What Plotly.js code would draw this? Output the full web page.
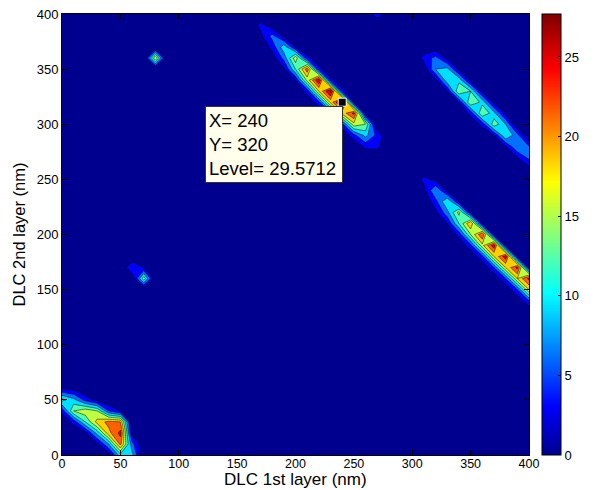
<!DOCTYPE html>
<html>
<head>
<meta charset="utf-8">
<script src="https://cdn.plot.ly/plotly-3.0.1.min.js"></script>
<style>html,body{margin:0;padding:0;background:#fff;}#chart{width:595px;height:490px;}</style>
</head>
<body>
<div id="chart"></div>
<script>
// grid of the simulation (nm)
const gridX = [0,10,20,30,40,50,60,70,80,90,100,110,120,130,140,150,160,170,180,190,200,210,220,230,240,250,260,270,280,290,300,310,320,330,340,350,360,370,380,390,400];
const gridY = [0,10,20,30,40,50,60,70,80,90,100,110,120,130,140,150,160,170,180,190,200,210,220,230,240,250,260,270,280,290,300,310,320,330,340,350,360,370,380,390,400];

// non-zero cells (everything else is 0)
// bottom-left band
const blX = [0,0,0, 10,10,10,10, 20,20,20,20, 30,30,30,30,30, 40,40,40,40,40, 50,50,50,50,50, 60,60,60];
const blY = [40,50,60, 30,40,50,60, 20,30,40,50, 10,20,30,40,50, 0,10,20,30,40, 0,10,20,30,40, 0,10,20];
const blZ = [4,13,3, 4,15,10,2, 2,12,17,5, 2,10,19,15,2, 1,9,20,22,6, 11,22,25,21,3, 10,7,2];

// ridge A (upper middle)
const raX = [160, 170,170,170, 180,180,180,180, 190,190,190,190, 200,200,200,200, 210,210,210,210, 220,220,220,220, 230,230,230,230, 240,240,240,240, 250,250,250,250, 260,260,260,260, 270,270];
const raY = [400, 390,380,400, 380,370,390,360, 370,360,380,350, 360,350,370,340, 350,340,360,330, 340,330,350,320, 330,320,340,310, 320,310,330,300, 310,300,320,290, 300,290,310,280, 290,280];
const raZ = [3, 4,2,0, 7,4,1,1, 11,7,2,2, 17,12,3,3, 23,16,4,4, 27,18,4,5, 28,19,4,5, 29.5712,19,4,5, 25,17,3,5, 15,10,2,4, 5,4];

// ridge B (upper right)
const rbX = [310,310,310, 320,320,320,320, 330,330,330,330, 340,340,340,340, 350,350,350,350, 360,360,360,360, 370,370,370,370, 380,380,380,380, 390,390,390, 400,400,400, 270];
const rbY = [360,370,350, 350,360,340,370, 340,350,330,360, 330,340,320,350, 320,330,310,340, 310,320,300,330, 300,310,290,320, 290,300,280,310, 280,290,270, 270,280,260, 400];
const rbZ = [4,1,1, 9,7,2,1, 11,10,3,2, 15,11,3,2, 15,12,4,2, 15,11,4,2, 14,10,3,2, 12,9,3,2, 9,7,3, 7,6,2, 5];

// ridge C (lower right)
const rcX = [310,310, 320,320,320,320, 330,330,330,330, 340,340,340,340, 350,350,350,350, 360,360,360,360, 370,370,370,370, 380,380,380,380, 390,390,390,390, 400,400,400,400];
const rcY = [250,240, 240,230,250,220, 230,220,240,210, 220,210,230,200, 210,200,220,190, 200,190,210,180, 190,180,200,170, 180,170,190,160, 170,160,180,150, 160,150,170,140];
const rcZ = [4,2, 9,5,2,2, 12,8,2,3, 16,12,3,4, 21,15,3,5, 24,17,3,5, 26,18,3,6, 26,18,3,6, 25,18,3,6, 25,18,3,6];

// isolated spots
const spotX = [80, 70, 60, 70];
const spotY = [360, 160, 170, 170];
const spotZ = [18, 14, 6, 3];

// data tip
const tipX = 240, tipY = 320, tipLevel = 29.5712;
const cbTicks = [0,5,10,15,20,25];
const xTicks = [0,50,100,150,200,250,300,350,400];
const yTicks = [0,50,100,150,200,250,300,350,400];

// build z matrix
const z = gridY.map(() => gridX.map(() => 0));
function put(xs, ys, zs){
  for (let i = 0; i < xs.length; i++){
    const xi = gridX.indexOf(xs[i]), yi = gridY.indexOf(ys[i]);
    if (xi >= 0 && yi >= 0) z[yi][xi] = zs[i];
  }
}
put(blX, blY, blZ); put(raX, raY, raZ); put(rbX, rbY, rbZ); put(rcX, rcY, rcZ); put(spotX, spotY, spotZ);

const jet = [[0,'rgb(0,0,143)'],[0.111,'rgb(0,0,255)'],[0.365,'rgb(0,255,255)'],[0.619,'rgb(255,255,0)'],[0.873,'rgb(255,0,0)'],[1,'rgb(128,0,0)']];
const font = 'Arial, "Liberation Sans", sans-serif';

const traces = [
  {
    type: 'contour', x: gridX, y: gridY, z: z,
    colorscale: jet, showscale: false, autocontour: false,
    contours: {start: 3, end: 27, size: 3, coloring: 'fill', showlines: true},
    line: {color: 'rgba(0,0,0,0.85)', width: 0.6, smoothing: 0},
    hoverinfo: 'skip'
  },
  {
    type: 'scatter', mode: 'markers', x: [null], y: [null], hoverinfo: 'skip', showlegend: false,
    marker: {color: [0], cmin: 0, cmax: 27.7, colorscale: jet, showscale: true,
      colorbar: {x: 1.027, xanchor: 'left', y: 0.5, yanchor: 'middle', len: 1, lenmode: 'fraction',
        thickness: 19, thicknessmode: 'pixels', outlinecolor: '#000', outlinewidth: 1,
        tickvals: cbTicks, ticks: 'inside', ticklen: 3, tickcolor: '#000',
        tickfont: {family: font, size: 13, color: '#000'}, xpad: 0, ypad: 0}}
  },
  {
    type: 'scatter', mode: 'markers', x: [tipX], y: [tipY], hoverinfo: 'skip', showlegend: false,
    marker: {symbol: 'square', size: 8, color: '#000', line: {color: '#fff', width: 1}}
  }
];

const axisCommon = {
  range: [0, 400], showgrid: false, zeroline: false, showline: true, mirror: 'ticks',
  linecolor: '#000', linewidth: 1, ticks: 'inside', ticklen: 5, tickcolor: '#000',
  tickfont: {family: font, size: 13, color: '#000'}
};

const layout = {
  width: 595, height: 490,
  margin: {l: 62, r: 57, t: 14, b: 35},
  paper_bgcolor: '#fff', plot_bgcolor: 'rgb(0,0,143)',
  showlegend: false,
  xaxis: Object.assign({}, axisCommon, {tickvals: xTicks, ticklabelstandoff: -3,
    tickfont: {family: font, size: 12.5, color: '#000'},
    title: {text: '', font: {family: font, size: 17, color: '#000'}}}),
  yaxis: Object.assign({}, axisCommon, {tickvals: yTicks,
    title: {text: 'DLC 2nd layer (nm)', font: {family: font, size: 16.5, color: '#000'}, standoff: 6}}),
  annotations: [{
    x: 122.5, y: 316.5, xref: 'x', yref: 'y', xanchor: 'left', yanchor: 'top', showarrow: false,
    align: 'left', width: 130, text: 'X= ' + tipX + '<br>Y= ' + tipY + '<br>Level= ' + tipLevel,
    font: {family: font, size: 18.5, color: '#000'},
    bgcolor: 'rgb(255,255,236)', bordercolor: '#333', borderwidth: 1, borderpad: 3
  }, {
    x: 0.5, y: 0, xref: 'paper', yref: 'paper', xanchor: 'center', yanchor: 'middle', yshift: -24,
    showarrow: false, text: 'DLC 1st layer (nm)', font: {family: font, size: 17, color: '#000'}
  }]
};

Plotly.newPlot('chart', traces, layout, {displayModeBar: false, staticPlot: true});
</script>
</body>
</html>
